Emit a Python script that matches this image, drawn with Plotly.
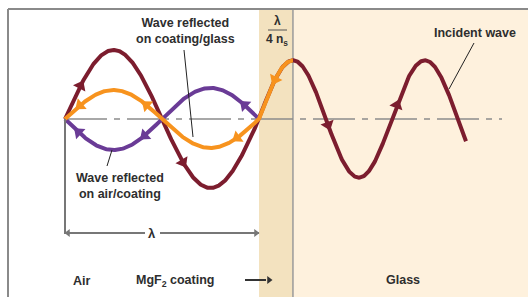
import numpy as np
import plotly.graph_objects as go

# ---- wave data (x in units of the air wavelength, y in units of incident amplitude) ----
air_wavelength = 1.0
coating_thickness = 0.175          # lambda / (4 n_s)
glass_wavelength = 0.68
incident_amp_air = 1.0
incident_amp_glass = 0.85
reflect_coating_glass_amp = 0.42
reflect_air_coating_amp = 0.45
glass_wave_end = 2.067

incident_arrow_x = [0.08, 0.608, 1.356, 1.711]
coating_glass_arrow_x = [0.077, 0.42, 0.887, 1.082]
air_coating_arrow_x = [0.07, 0.41, 0.925]

labels_bottom = ["Air", "MgF<sub>2</sub> coating", "Glass"]

# ---- layout scale (pixel mapping) ----
W, H = 528, 297
X0, SX = 65.0, 194.0
Y0, SY = 119.0, 69.0
def X(px): return (px - X0) / SX
def Y(py): return (Y0 - py) / SY

MAROON = "#7c1d2e"
ORANGE = "#f7931e"
PURPLE = "#6a3b96"
TXT = "#2e2e2e"
GRAY = "#8a8a8a"
FONT = "Liberation Sans, Arial, sans-serif"

t = coating_thickness
lc = 4 * t

def incident(x):
    x = np.asarray(x, float)
    return np.where(x <= 1.0, incident_amp_air * np.sin(2*np.pi*x/air_wavelength),
           np.where(x <= 1.0 + t, incident_amp_glass * np.sin(2*np.pi*(x-1.0)/lc),
                    incident_amp_glass * np.cos(2*np.pi*(x-1.0-t)/glass_wavelength)))

def refl_cg(x):
    x = np.asarray(x, float)
    return np.where(x <= 1.0, reflect_coating_glass_amp * np.sin(2*np.pi*x/air_wavelength),
                    incident_amp_glass * np.sin(2*np.pi*(x-1.0)/lc))

def refl_ac(x):
    x = np.asarray(x, float)
    return -reflect_air_coating_amp * np.sin(2*np.pi*x/air_wavelength)

def arrow_angles(f, xs, direction):
    out = []
    for x in xs:
        d = 1e-4
        slope = (float(f(x + d)) - float(f(x - d))) / (2*d)
        vx = direction * SX
        vy = -direction * SY * slope      # pixel space, y down
        out.append(float(np.degrees(np.arctan2(vx, -vy))))
    return out

fig = go.Figure()

xi = np.linspace(0, glass_wave_end, 800)
xo = np.linspace(0, 1.0 + t, 400)
xp = np.linspace(0, 1.0, 300)

fig.add_trace(go.Scatter(x=xi, y=incident(xi), mode="lines",
                         line=dict(color=MAROON, width=4), hoverinfo="skip"))
fig.add_trace(go.Scatter(x=xp, y=refl_ac(xp), mode="lines",
                         line=dict(color=PURPLE, width=4), hoverinfo="skip"))
fig.add_trace(go.Scatter(x=xo, y=refl_cg(xo), mode="lines",
                         line=dict(color=ORANGE, width=4), hoverinfo="skip"))

for f, xs, d, c in [(incident, incident_arrow_x, 1, MAROON),
                    (refl_ac, air_coating_arrow_x, -1, PURPLE),
                    (refl_cg, coating_glass_arrow_x, -1, ORANGE)]:
    fig.add_trace(go.Scatter(x=xs, y=[float(f(v)) for v in xs], mode="markers",
                             marker=dict(symbol="triangle-up", size=12, color=c,
                                         angle=arrow_angles(f, xs, d), line=dict(width=0)),
                             hoverinfo="skip"))

# dimension-line arrowheads (lambda span) and the coating pointer arrow
fig.add_trace(go.Scatter(x=[X(68), X(256)], y=[Y(233), Y(233)], mode="markers",
                         marker=dict(symbol="triangle-up", size=7, color="#777",
                                     angle=[-90, 90], line=dict(width=0)),
                         hoverinfo="skip"))
fig.add_trace(go.Scatter(x=[X(269)], y=[Y(280)], mode="markers",
                         marker=dict(symbol="triangle-up", size=7, color="#333",
                                     angle=[90], line=dict(width=0)),
                         hoverinfo="skip"))

shapes = [
    # coating and glass regions
    dict(type="rect", x0=1.0, x1=1.0 + t, y0=Y(9), y1=Y(297), fillcolor="#f3e2bf",
         line=dict(width=0), layer="below"),
    dict(type="rect", x0=1.0 + t, x1=X(528), y0=Y(9), y1=Y(297), fillcolor="#fef1dd",
         line=dict(width=0), layer="below"),
    dict(type="line", x0=1.0 + t, x1=1.0 + t, y0=Y(9), y1=Y(297),
         line=dict(color="#9a9a9a", width=1.5), layer="below"),
    # frame
    dict(type="line", x0=X(8), x1=X(528), y0=Y(9), y1=Y(9), line=dict(color=GRAY, width=2)),
    dict(type="line", x0=X(8), x1=X(8), y0=Y(9), y1=Y(297), line=dict(color=GRAY, width=2)),
    # dashed axis
    dict(type="line", x0=0, x1=X(502), y0=0, y1=0,
         line=dict(color="#8c8c8c", width=1.5, dash="42px,7px,6px,7px"), layer="below"),
    # vertical dimension line
    dict(type="line", x0=0, x1=0, y0=0, y1=Y(234), line=dict(color="#777", width=2)),
    # horizontal dimension line (with gap for label)
    dict(type="line", x0=X(65), x1=X(145), y0=Y(233), y1=Y(233), line=dict(color="#777", width=2)),
    dict(type="line", x0=X(160), x1=X(259), y0=Y(233), y1=Y(233), line=dict(color="#777", width=2)),
    # coating pointer
    dict(type="line", x0=X(245), x1=X(266), y0=Y(280), y1=Y(280), line=dict(color="#333", width=2)),
    # fraction bar
    dict(type="line", x0=X(268), x1=X(287), y0=Y(30), y1=Y(30), line=dict(color="#555", width=1)),
    # leader lines
    dict(type="line", x0=X(184), x1=X(193), y0=Y(50), y1=Y(137), line=dict(color="#222", width=1)),
    dict(type="line", x0=X(474), x1=X(449), y0=Y(43), y1=Y(89), line=dict(color="#222", width=1)),
    dict(type="line", x0=X(107), x1=X(112), y0=Y(166), y1=Y(150), line=dict(color="#222", width=1)),
]

def txt(s, px, py, size=12.5):
    return dict(text=s, x=X(px), y=Y(py), xref="x", yref="y", showarrow=False,
                font=dict(family=FONT, size=size, color=TXT), xanchor="center", yanchor="middle")

ann = [
    txt("<b>Wave reflected<br>on coating/glass</b>", 185, 31),
    txt("<b>Incident wave</b>", 475, 33),
    txt("<b>Wave reflected<br>on air/coating</b>", 120, 186),
    txt("<b>λ</b>", 277, 21, 12),
    txt("<b>4 n<sub>s</sub></b>", 277, 40, 12),
    txt("<b>λ</b>", 152, 233, 13),
    txt("<b>" + labels_bottom[0] + "</b>", 82, 281),
    txt("<b>" + labels_bottom[1] + "</b>", 175, 281),
    txt("<b>" + labels_bottom[2] + "</b>", 403, 280),
]

fig.update_layout(
    width=W, height=H, margin=dict(l=0, r=0, t=0, b=0),
    paper_bgcolor="white", plot_bgcolor="white", showlegend=False,
    xaxis=dict(range=[X(0), X(W)], visible=False, fixedrange=True),
    yaxis=dict(range=[Y(H), Y(0)], visible=False, fixedrange=True),
    shapes=shapes, annotations=ann,
)

fig.write_html("out.html", config=dict(displayModeBar=False),
               post_script="document.body.style.margin='0px';document.body.style.overflow='hidden';")
